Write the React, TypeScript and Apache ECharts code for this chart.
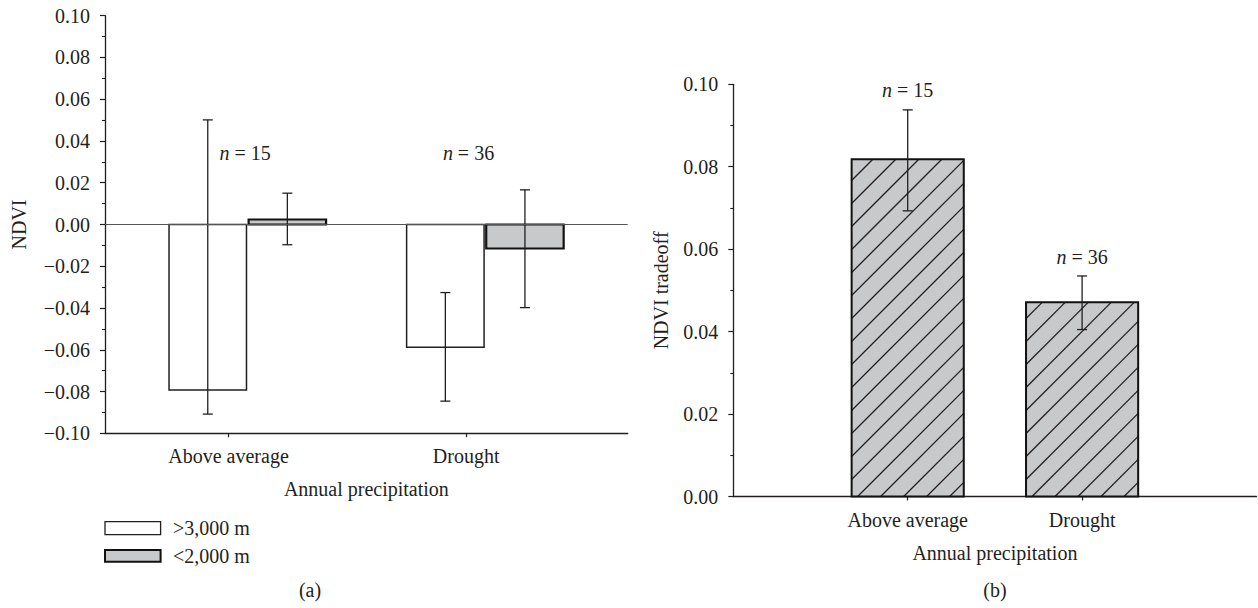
import React, { useEffect, useRef } from "react";
import * as echarts from "echarts";

// ---------- data ----------
const categories = ["Above average", "Drought"];
const sampleSizes = [15, 36];
// panel (a): NDVI by elevation class
const highElevMean = [-0.0793, -0.0588];
const highElevUpper = [0.0501, -0.0326];
const highElevLower = [-0.0908, -0.0846];
const lowElevMean = [0.0024, -0.0115];
const lowElevUpper = [0.015, 0.0166];
const lowElevLower = [-0.0097, -0.0398];
// panel (b): NDVI tradeoff
const tradeoffMean = [0.0818, 0.0471];
const tradeoffUpper = [0.0938, 0.0535];
const tradeoffLower = [0.0693, 0.0405];
const legendLabels = [">3,000 m", "<2,000 m"];
const panelLabels = ["(a)", "(b)"];
// annotation anchor points (x in axis units, y in data units)
const leftNLabelX = [1.14, 3.02];
const leftNLabelY = [0.0342, 0.0342];
const rightNLabelY = [0.0987, 0.058];

// ---------- layout / style ----------
const FONT = "Liberation Serif";
const INK = "#231f20";
const GREY = "#c8c9cb";
const LEFT_CAT_POS = [1, 3];
const RIGHT_CAT_POS = [1, 2];
const HIGH_OFFSET = -0.175;
const LOW_OFFSET = 0.495;
const LEFT_BAR_W = 0.652;
const RIGHT_BAR_W = 0.643;
const HATCH_STEP = 23;

function fmtTick(v: number) {
  if (Math.abs(v) < 1e-9) return "0.00";
  const s = Math.abs(v).toFixed(2);
  return v < 0 ? "\u2212" + s : s;
}

function barSeries(
  name: string,
  xAxisIndex: number,
  xs: number[],
  means: number[],
  lowers: number[],
  uppers: number[],
  bw: number,
  fill: string,
  stroke: string,
  strokeW: number,
  hatch: boolean,
  extra: any = {}
) {
  return {
    type: "custom",
    name,
    xAxisIndex,
    yAxisIndex: xAxisIndex,
    data: xs.map((x, i) => [x, means[i], lowers[i], uppers[i]]),
    encode: { x: 0, y: [1, 2, 3] },
    renderItem: (_params: any, api: any) => {
      const x = api.value(0);
      const m = api.value(1);
      const lo = api.value(2);
      const hi = api.value(3);
      const pA = api.coord([x - bw / 2, 0]);
      const pB = api.coord([x + bw / 2, m]);
      const L = Math.min(pA[0], pB[0]);
      const R = Math.max(pA[0], pB[0]);
      const T = Math.min(pA[1], pB[1]);
      const B = Math.max(pA[1], pB[1]);
      const children: any[] = [];
      children.push({
        type: "rect",
        shape: { x: L, y: T, width: R - L, height: B - T },
        style: { fill, stroke: "none" },
      });
      if (hatch) {
        const c0 = L + B + 6;
        let c = c0 - Math.ceil((c0 - (L + T)) / HATCH_STEP) * HATCH_STEP;
        for (; c < R + B; c += HATCH_STEP) {
          const xa = Math.max(L, c - B);
          const xb = Math.min(R, c - T);
          if (xb - xa > 0.5) {
            children.push({
              type: "line",
              shape: { x1: xa, y1: c - xa, x2: xb, y2: c - xb },
              style: { stroke: INK, lineWidth: 1.3 },
            });
          }
        }
      }
      children.push({
        type: "rect",
        shape: { x: L, y: T, width: R - L, height: B - T },
        style: { fill: "none", stroke, lineWidth: strokeW },
      });
      const pHi = api.coord([x, hi]);
      const pLo = api.coord([x, lo]);
      const cap = 5;
      const es = { stroke: INK, lineWidth: 1.3 };
      children.push({ type: "line", shape: { x1: pHi[0], y1: pHi[1], x2: pLo[0], y2: pLo[1] }, style: es });
      children.push({ type: "line", shape: { x1: pHi[0] - cap, y1: pHi[1], x2: pHi[0] + cap, y2: pHi[1] }, style: es });
      children.push({ type: "line", shape: { x1: pLo[0] - cap, y1: pLo[1], x2: pLo[0] + cap, y2: pLo[1] }, style: es });
      return { type: "group", children };
    },
    ...extra,
  };
}

function nLabelSeries(axisIndex: number, xs: number[], ys: number[]) {
  return {
    type: "custom",
    xAxisIndex: axisIndex,
    yAxisIndex: axisIndex,
    silent: true,
    data: sampleSizes.map((n, i) => [xs[i], ys[i], n]),
    encode: { x: 0, y: 1 },
    renderItem: (_params: any, api: any) => {
      const p = api.coord([api.value(0), api.value(1)]);
      return {
        type: "text",
        x: p[0],
        y: p[1],
        style: {
          text: "{i|n} = " + api.value(2),
          fill: INK,
          font: `20px "${FONT}"`,
          align: "center",
          verticalAlign: "middle",
          rich: {
            i: { fontStyle: "italic", fontFamily: FONT, fontSize: 20, fill: INK, color: INK },
          },
        },
      };
    },
  };
}

export default function App() {
  const ref = useRef<HTMLDivElement>(null);
  useEffect(() => {
    if (!ref.current) return;
    const chart = echarts.init(ref.current, undefined, { renderer: "svg" });
    const axisText = { fontFamily: FONT, fontSize: 20, color: INK };
    const yAxisCommon = {
      type: "value",
      interval: 0.02,
      axisLine: { show: true, onZero: false, lineStyle: { color: INK, width: 1.3 } },
      axisTick: { show: true, length: 5, lineStyle: { color: INK, width: 1.2 } },
      minorTick: { show: true, splitNumber: 2, length: 3, lineStyle: { color: INK, width: 1.1 } },
      splitLine: { show: false },
      axisLabel: { ...axisText, margin: 15, formatter: fmtTick },
      nameLocation: "middle",
      nameRotate: 90,
      nameTextStyle: axisText,
    };
    const xAxisCommon = {
      type: "value",
      axisLine: { show: true, onZero: false, lineStyle: { color: INK, width: 1.3 } },
      splitLine: { show: false },
      nameLocation: "middle",
      nameGap: 46,
      nameTextStyle: axisText,
    };
    const highX = LEFT_CAT_POS.map((p) => p + HIGH_OFFSET);
    const lowX = LEFT_CAT_POS.map((p) => p + LOW_OFFSET);

    const option: any = {
      animation: false,
      backgroundColor: "#ffffff",
      textStyle: { fontFamily: FONT, color: INK },
      grid: [
        { left: 105, top: 15.7, width: 522.7, height: 417.6 },
        { left: 733.3, top: 84.3, width: 523.2, height: 412.2 },
      ],
      xAxis: [
        {
          ...xAxisCommon,
          gridIndex: 0,
          min: -0.04,
          max: 4.36,
          name: "Annual precipitation",
          axisTick: { show: true, length: 4, customValues: LEFT_CAT_POS, lineStyle: { color: INK, width: 1.2 } },
          axisLabel: {
            ...axisText,
            margin: 13,
            customValues: LEFT_CAT_POS,
            formatter: (v: number) => categories[LEFT_CAT_POS.indexOf(v)] ?? "",
          },
        },
        {
          ...xAxisCommon,
          gridIndex: 1,
          min: 0,
          max: 3,
          name: "Annual precipitation",
          axisTick: { show: true, length: 4, customValues: RIGHT_CAT_POS, lineStyle: { color: INK, width: 1.2 } },
          axisLabel: {
            ...axisText,
            margin: 13,
            customValues: RIGHT_CAT_POS,
            formatter: (v: number) => categories[RIGHT_CAT_POS.indexOf(v)] ?? "",
          },
        },
      ],
      yAxis: [
        { ...yAxisCommon, gridIndex: 0, min: -0.1, max: 0.1, name: "NDVI", nameGap: 76 },
        { ...yAxisCommon, gridIndex: 1, min: 0, max: 0.1, name: "NDVI tradeoff", nameGap: 62 },
      ],
      series: [
        barSeries(legendLabels[0], 0, highX, highElevMean, highElevLower, highElevUpper, LEFT_BAR_W, "#ffffff", INK, 1.5, false, {
          markLine: {
            silent: true,
            symbol: ["none", "none"],
            label: { show: false },
            lineStyle: { color: "#555", width: 1, type: "solid" },
            data: [{ yAxis: 0 }],
          },
        }),
        barSeries(legendLabels[1], 0, lowX, lowElevMean, lowElevLower, lowElevUpper, LEFT_BAR_W, GREY, "#111", 2.2, false),
        barSeries("NDVI tradeoff", 1, RIGHT_CAT_POS, tradeoffMean, tradeoffLower, tradeoffUpper, RIGHT_BAR_W, GREY, "#111", 2, true),
        nLabelSeries(0, leftNLabelX, leftNLabelY),
        nLabelSeries(1, RIGHT_CAT_POS, rightNLabelY),
      ],
      graphic: [
        {
          type: "rect",
          shape: { x: 105, y: 521.7, width: 55.6, height: 13 },
          style: { fill: "#ffffff", stroke: INK, lineWidth: 1.3 },
        },
        {
          type: "rect",
          shape: { x: 105, y: 550, width: 55.6, height: 11.7 },
          style: { fill: GREY, stroke: "#111", lineWidth: 2 },
        },
        {
          type: "text",
          x: 173,
          y: 528.3,
          style: { text: legendLabels[0], font: `20px "${FONT}"`, fill: INK, verticalAlign: "middle" },
        },
        {
          type: "text",
          x: 173,
          y: 555.5,
          style: { text: legendLabels[1], font: `20px "${FONT}"`, fill: INK, verticalAlign: "middle" },
        },
        {
          type: "text",
          x: 310,
          y: 590,
          style: { text: panelLabels[0], font: `20px "${FONT}"`, fill: INK, align: "center", verticalAlign: "middle" },
        },
        {
          type: "text",
          x: 995,
          y: 590,
          style: { text: panelLabels[1], font: `20px "${FONT}"`, fill: INK, align: "center", verticalAlign: "middle" },
        },
      ],
    };
    chart.setOption(option);
    return () => chart.dispose();
  }, []);
  return (
    <div
      ref={ref}
      style={{ position: "absolute", left: 0, top: 0, width: 1258, height: 608, background: "#fff" }}
    />
  );
}
